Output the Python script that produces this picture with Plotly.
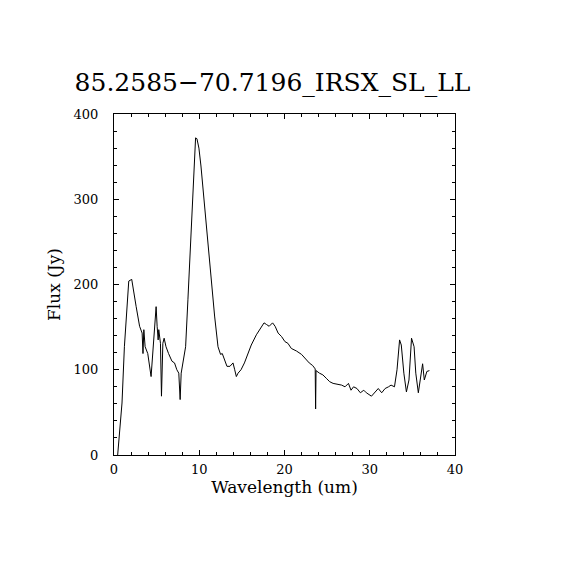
import plotly.graph_objects as go

# spectrum
wavelength = [0.43, 0.94, 1.22, 1.6, 1.73, 2.08, 2.2, 2.6, 3.0, 3.3, 3.4, 3.5, 3.65, 3.96,
              4.35, 4.55, 4.75, 4.94, 5.06, 5.18, 5.25, 5.45, 5.57, 5.73, 5.88, 6.1, 6.4,
              6.6, 6.8, 7.1, 7.37, 7.6, 7.76, 7.88, 8.08, 8.4, 8.67, 8.98, 9.25, 9.57, 9.73,
              9.96, 10.2, 10.6, 11.0, 11.4, 11.8, 12.2, 12.5, 12.7, 13.0, 13.25, 13.6, 13.96,
              14.16, 14.35, 14.55, 14.9, 15.3, 15.7, 16.1, 16.7, 17.2, 17.6, 17.9, 18.2,
              18.6, 18.9, 19.25, 19.65, 20.05, 20.4, 20.8, 21.4, 22.0, 22.5, 22.9, 23.3,
              23.6, 23.65, 23.7, 24.1, 24.5, 24.9, 25.3, 25.7, 26.3, 26.7, 27.1, 27.5, 27.8,
              28.1, 28.5, 28.9, 29.3, 29.6, 30.2, 30.6, 31.0, 31.4, 31.8, 32.2, 32.5, 32.9,
              33.2, 33.5, 33.7, 34.0, 34.3, 34.6, 34.9, 35.2, 35.4, 35.7, 36.0, 36.2, 36.4,
              36.7, 37.0]
flux = [0, 61, 127, 190, 204, 206, 198, 174, 151, 143, 119, 147, 127, 119,
        92, 119, 151, 174, 151, 135, 147, 131, 69, 131, 137, 127, 119,
        114, 110, 108, 100, 96, 65, 96, 108, 127, 182, 253, 319, 372, 371,
        360, 339, 296, 245, 202, 163, 127, 118, 119, 110, 104, 104, 108,
        100, 92, 96, 100, 108, 119, 129, 141, 149, 155, 153, 151,
        155, 151, 143, 139, 133, 131, 125, 122, 118, 112, 108, 105,
        101, 54, 99, 96, 94, 90, 86, 84, 83, 82, 80, 84, 76,
        80, 78, 73, 76, 73, 69, 73, 78, 73, 78, 80, 82, 80,
        100, 135, 129, 96, 74, 88, 137, 127, 96, 73, 92, 107, 88,
        98, 99]

title_text = "85.2585\u221270.7196_IRSX_SL_LL"
serif = "DejaVu Serif, Liberation Serif, serif"

fig = go.Figure()
fig.add_trace(go.Scatter(x=wavelength, y=flux, mode="lines",
                         line=dict(color="black", width=1), showlegend=False))

axis_common = dict(showline=True, linecolor="black", linewidth=1, mirror="allticks",
                   ticks="inside", ticklen=5, tickcolor="black", tickwidth=1,
                   showgrid=False, zeroline=False,
                   tickfont=dict(family=serif, size=13, color="black"))

fig.update_xaxes(range=[0, 40], tick0=0, dtick=10, ticklabelstandoff=2,
                 minor=dict(ticks="inside", ticklen=3, dtick=2, tickcolor="black", showgrid=False),
                 title=dict(text="Wavelength (um)", font=dict(family=serif, size=17, color="black"),
                            standoff=5),
                 **axis_common)
fig.update_yaxes(range=[0, 400], tick0=0, dtick=100, ticklabelstandoff=12,
                 minor=dict(ticks="inside", ticklen=3, dtick=20, tickcolor="black", showgrid=False),
                 title=dict(text="Flux (Jy)", font=dict(family=serif, size=17, color="black"),
                            standoff=8),
                 **axis_common)

fig.update_layout(width=570, height=570, plot_bgcolor="white", paper_bgcolor="white",
                  margin=dict(l=106, r=123, t=106, b=123),
                  title=dict(text=title_text, x=0.464, xanchor="center", y=0.869, yanchor="middle",
                             font=dict(family=serif, size=25, color="black")))

fig.write_html("out.html")
